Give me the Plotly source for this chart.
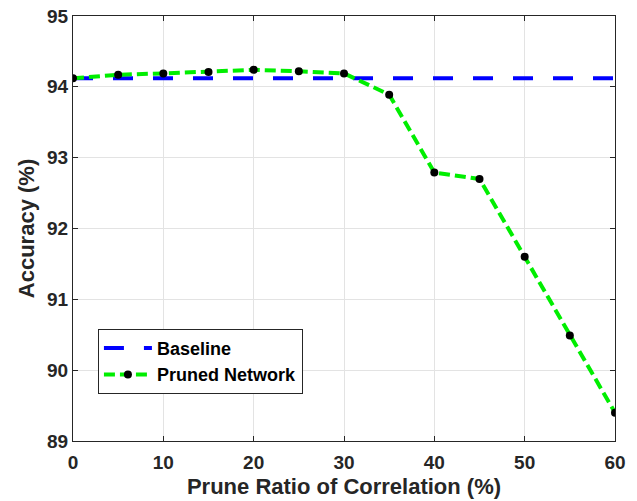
import plotly.graph_objects as go

prune_ratio = [0, 5, 10, 15, 20, 25, 30, 35, 40, 45, 50, 55, 60]
pruned_acc = [94.12, 94.17, 94.19, 94.21, 94.24, 94.22, 94.19, 93.89, 92.79, 92.70, 91.60, 90.49, 89.40]
baseline_acc = 94.12
x_ticks = [0, 10, 20, 30, 40, 50, 60]
y_ticks = [89, 90, 91, 92, 93, 94, 95]

FONT = "Liberation Sans, Arial, sans-serif"

fig = go.Figure()
fig.add_trace(go.Scatter(
    x=[prune_ratio[0], prune_ratio[-1]], y=[baseline_acc, baseline_acc],
    mode="lines", name="Baseline",
    line=dict(color="#0000ff", width=4, dash="20px,20px"),
))
fig.add_trace(go.Scatter(
    x=prune_ratio, y=pruned_acc,
    mode="lines+markers", name="Pruned Network",
    line=dict(color="#00ee00", width=4, dash="11px,5px"),
    marker=dict(color="black", size=8),
))

axis_common = dict(
    showgrid=True, gridcolor="#e3e3e3", gridwidth=1,
    showline=True, linecolor="#262626", linewidth=1, mirror="ticks",
    ticks="inside", ticklen=5, tickcolor="#262626",
    tickfont=dict(family=FONT, size=19, color="#262626", weight="bold"),
    zeroline=False, automargin=False,
)

fig.update_layout(
    width=637, height=501,
    margin=dict(l=73, r=22, t=16, b=60),
    plot_bgcolor="white", paper_bgcolor="white",
    showlegend=True,
    legend=dict(
        x=0.046, y=0.264, xanchor="left", yanchor="top",
        bgcolor="white", bordercolor="#262626", borderwidth=1,
        font=dict(family=FONT, size=18, color="black", weight="bold"),
        tracegroupgap=0, itemwidth=48,
    ),
    xaxis=dict(range=[0, 60], tickvals=x_ticks, ticklabelstandoff=4,
               title=dict(text="Prune Ratio of Correlation (%)", standoff=6,
                          font=dict(family=FONT, size=22, color="#262626", weight="bold")),
               **axis_common),
    yaxis=dict(range=[89, 95], tickvals=y_ticks,
               title=dict(text="Accuracy (%)", standoff=6,
                          font=dict(family=FONT, size=22, color="#262626", weight="bold")),
               **axis_common),
)

fig.write_html("out.html")
